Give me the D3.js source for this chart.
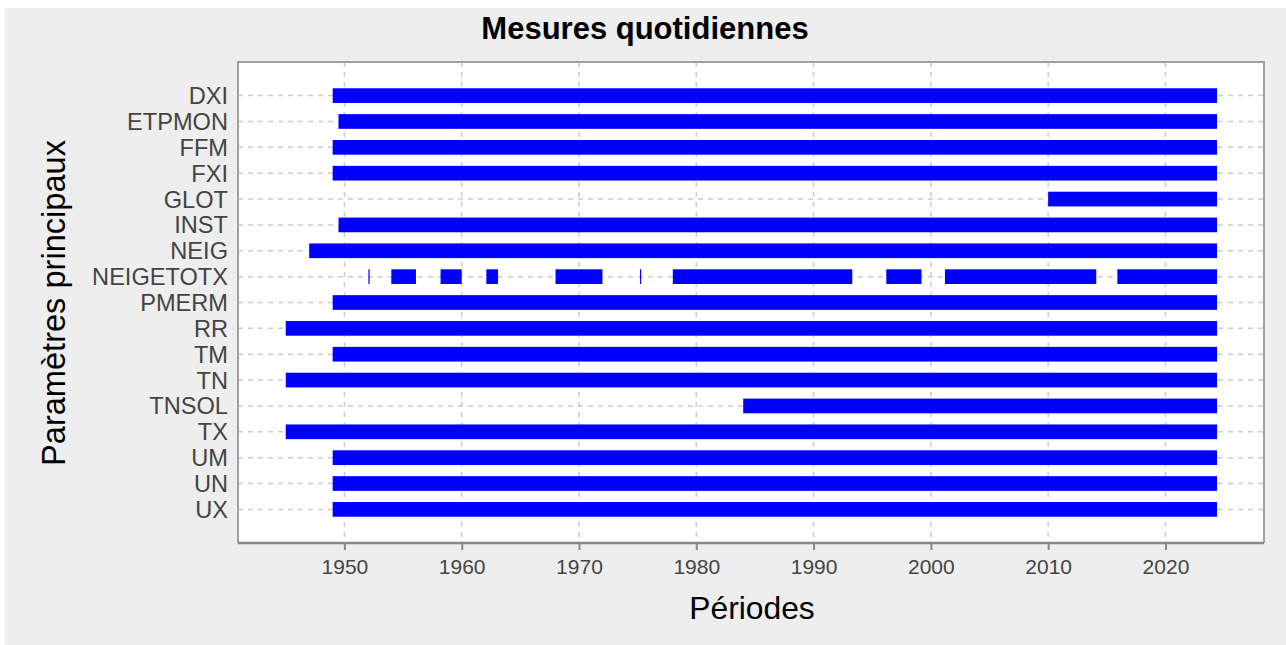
<!DOCTYPE html>
<html>
<head>
<meta charset="utf-8">
<script src="https://cdn.jsdelivr.net/npm/d3@7"></script>
<style>
  body { margin: 0; background: #fff; }
  text { font-family: "Liberation Sans", Arial, sans-serif; }
</style>
</head>
<body>
<div class="chart-wrapper"></div>
<script>
// parametres mesures et leurs periodes de disponibilite (annees decimales)
const parametres = ['DXI', 'ETPMON', 'FFM', 'FXI', 'GLOT', 'INST', 'NEIG', 'NEIGETOTX',
  'PMERM', 'RR', 'TM', 'TN', 'TNSOL', 'TX', 'UM', 'UN', 'UX']

const periodes = [
  [[1949, 2024.4]],
  [[1949.5, 2024.4]],
  [[1949, 2024.4]],
  [[1949, 2024.4]],
  [[2010, 2024.4]],
  [[1949.5, 2024.4]],
  [[1947, 2024.4]],
  [[1952.05, 1952.15], [1954, 1956.1], [1958.2, 1960], [1962.1, 1963.1], [1968, 1972],
   [1975.2, 1975.3], [1978, 1993.3], [1996.2, 1999.2], [2001.2, 2014.1], [2015.9, 2024.4]],
  [[1949, 2024.4]],
  [[1945, 2024.4]],
  [[1949, 2024.4]],
  [[1945, 2024.4]],
  [[1984, 2024.4]],
  [[1945, 2024.4]],
  [[1949, 2024.4]],
  [[1949, 2024.4]],
  [[1949, 2024.4]]
]

const anneesTicks = [1950, 1960, 1970, 1980, 1990, 2000, 2010, 2020]
const xDomain = [1940.93, 2028.4]

const width = 1286
const height = 645
const margin = {left: 238, top: 62, right: 1264, bottom: 543}
const barH = 14.7

let svg = d3.select('.chart-wrapper').append('svg')
    .attr('width', width)
    .attr('height', height)

// fond gris
svg.append('rect')
    .attr('x', 5).attr('y', 8)
    .attr('width', width - 5).attr('height', height - 8)
    .attr('fill', '#eeeeee')

// zone du graphique
svg.append('rect')
    .attr('x', margin.left).attr('y', margin.top)
    .attr('width', margin.right - margin.left)
    .attr('height', margin.bottom - margin.top)
    .attr('fill', '#ffffff')

let x = d3.scaleLinear()
    .domain(xDomain)
    .range([margin.left, margin.right])

let y = d3.scalePoint()
    .domain(parametres)
    .range([margin.top, margin.bottom])
    .padding(1.3)

// grille
let grid = svg.append('g').attr('class', 'grid')
    .attr('stroke', '#cccccc')
    .attr('stroke-width', 1.5)
    .attr('stroke-dasharray', '5,5')

grid.selectAll('line.v')
    .data(anneesTicks)
    .enter()
    .append('line')
    .attr('class', 'v')
    .attr('x1', d => x(d)).attr('x2', d => x(d))
    .attr('y1', margin.top).attr('y2', margin.bottom)

grid.selectAll('line.h')
    .data(parametres)
    .enter()
    .append('line')
    .attr('class', 'h')
    .attr('x1', margin.left).attr('x2', margin.right)
    .attr('y1', d => y(d)).attr('y2', d => y(d))

// barres
let rows = svg.append('g').attr('class', 'bars')
    .selectAll('g')
    .data(parametres)
    .enter()
    .append('g')

rows.selectAll('rect')
    .data((d, i) => periodes[i].map(p => ({nom: d, debut: p[0], fin: p[1]})))
    .enter()
    .append('rect')
    .attr('x', d => x(d.debut))
    .attr('width', d => Math.max(1.2, x(d.fin) - x(d.debut)))
    .attr('y', d => y(d.nom) - barH / 2)
    .attr('height', barH)
    .attr('fill', '#0000ff')

// bordures
svg.append('path')
    .attr('d', `M${margin.left},${margin.bottom}V${margin.top}H${margin.right}V${margin.bottom}`)
    .attr('fill', 'none')
    .attr('stroke', '#a0a0a0')
    .attr('stroke-width', 2)

// axe x
let xAxis = d3.axisBottom(x)
    .tickValues(anneesTicks)
    .tickFormat(d3.format('d'))
    .tickSize(7)
    .tickPadding(9)

let gx = svg.append('g')
    .attr('transform', `translate(0,${margin.bottom})`)
    .call(xAxis)

gx.select('.domain')
    .attr('d', `M${margin.left},0H${margin.right}`)
    .attr('stroke', '#888888')
    .attr('stroke-width', 2.5)
gx.selectAll('.tick line').attr('stroke', '#888888').attr('stroke-width', 2)
gx.selectAll('.tick text')
    .attr('fill', '#444444')
    .style('font-size', '21px')
    .style('font-family', '"Liberation Sans", Arial, sans-serif')

// libelles des parametres
svg.append('g').selectAll('text')
    .data(parametres)
    .enter()
    .append('text')
    .attr('x', 228)
    .attr('y', d => y(d) + 8.5)
    .attr('text-anchor', 'end')
    .attr('fill', '#444444')
    .style('font-size', '23.6px')
    .text(d => d)

// titres
svg.append('text')
    .attr('x', 645).attr('y', 39)
    .attr('text-anchor', 'middle')
    .style('font-size', '31px')
    .style('font-weight', 'bold')
    .attr('fill', '#000')
    .text('Mesures quotidiennes')

svg.append('text')
    .attr('x', 752).attr('y', 619)
    .attr('text-anchor', 'middle')
    .style('font-size', '31.8px')
    .attr('fill', '#000')
    .text('Périodes')

svg.append('text')
    .attr('transform', 'translate(65,303) rotate(-90)')
    .attr('text-anchor', 'middle')
    .style('font-size', '32.6px')
    .attr('fill', '#000')
    .text('Paramètres principaux')
</script>
</body>
</html>
